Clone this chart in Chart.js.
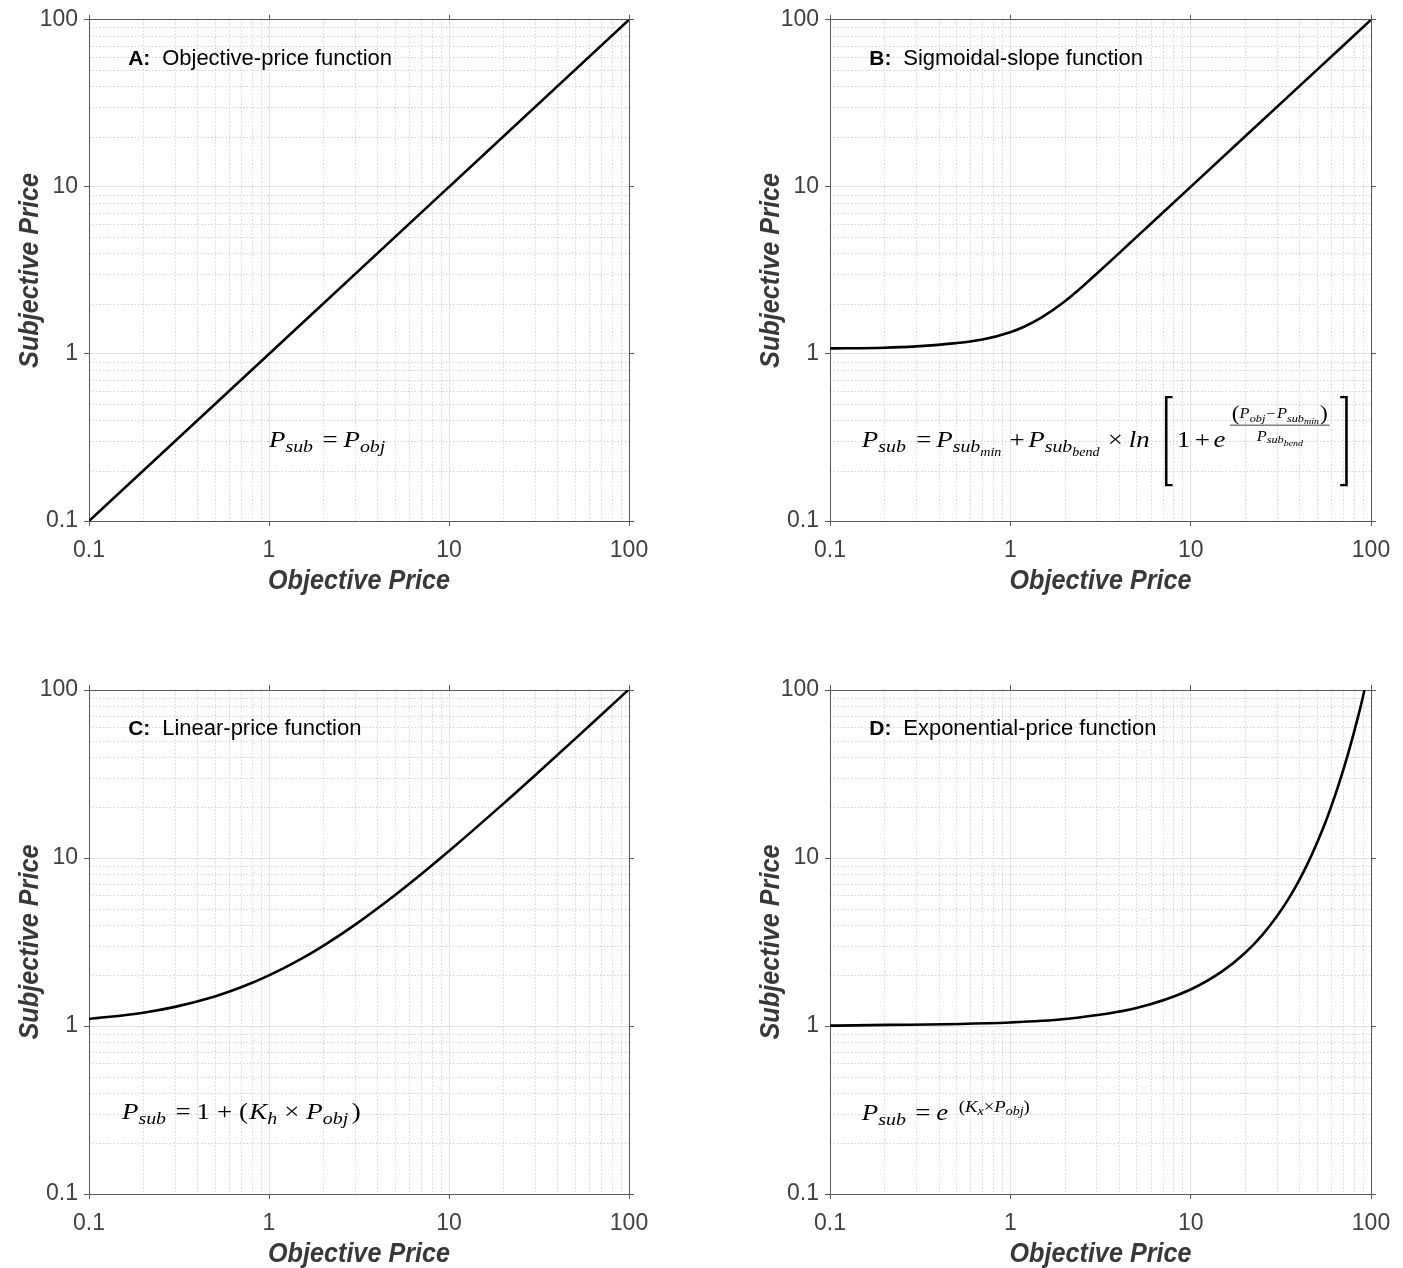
<!DOCTYPE html>
<html>
<head>
<meta charset="utf-8">
<script src="https://cdn.jsdelivr.net/npm/chart.js@4.4.1/dist/chart.umd.min.js"></script>
<style>
html,body{margin:0;padding:0;background:#fff;}
#wrap{position:relative;width:1403px;height:1268px;overflow:hidden;background:#fff;}
canvas{position:absolute;left:0;top:0;}
</style>
</head>
<body>
<div id="wrap">
<canvas id="c0" width="1403" height="1268"></canvas>
<canvas id="c1" width="1403" height="1268"></canvas>
<canvas id="c2" width="1403" height="1268"></canvas>
<canvas id="c3" width="1403" height="1268"></canvas>
</div>
<script>
// ---------- data ----------
const tickValues = [0.1, 1, 10, 100];
const tickLabels = ['0.1', '1', '10', '100'];
const minorValues = [0.2,0.3,0.4,0.5,0.6,0.7,0.8,0.9,2,3,4,5,6,7,8,9,20,30,40,50,60,70,80,90];

const objA = [0.1, 1, 10, 100];
const subA = [0.1, 1, 10, 100];

const objB = [0.1, 0.2, 0.3, 0.5, 0.7, 1, 1.2, 1.5, 2, 2.5, 3, 4, 5, 7, 10, 20, 50, 100];
const subB = [1.08, 1.09, 1.11, 1.16, 1.22, 1.35, 1.46, 1.66, 2.06, 2.52, 3.01, 4.0, 5.0, 7.0, 10, 20, 50, 100];

const objC = [0.1, 0.2, 0.3, 0.5, 0.7, 1, 1.5, 2, 3, 5, 7, 10, 20, 30, 50, 70, 100];
const subC = [1.1, 1.2, 1.3, 1.5, 1.7, 2, 2.5, 3, 4, 6, 8, 11, 21, 31, 51, 71, 101];

const objD = [0.1, 1, 2, 5, 10, 15, 20, 25, 30, 35, 40, 45, 50, 55, 60, 65, 70, 75, 80, 85, 90, 92];
const subD = [1.005, 1.05, 1.1, 1.28, 1.65, 2.12, 2.72, 3.49, 4.48, 5.75, 7.39, 9.49, 12.2, 15.6, 20.1, 25.8, 33.1, 42.5, 54.6, 70.1, 90, 100];

const panelLetters = ['A:', 'B:', 'C:', 'D:'];
const panelNames = ['Objective-price function', 'Sigmoidal-slope function', 'Linear-price function', 'Exponential-price function'];
const xTitle = 'Objective Price';
const yTitle = 'Subjective Price';

const seriesX = [objA, objB, objC, objD];
const seriesY = [subA, subB, subC, subD];

// ---------- layout (chart areas in page pixels) ----------
const W = 1403, H = 1268;
const areas = [
  {L: 89, T: 18, R: 629, B: 521},
  {L: 830, T: 18, R: 1371, B: 521},
  {L: 89, T: 690, R: 629, B: 1194},
  {L: 830, T: 690, R: 1371, B: 1194}
];
// annotation anchors in data coordinates
const labelAnchor = {x: 0.165, y: 54};
const formulaAnchors = [{x: 1.0, y: 0.277}, {x: 0.15, y: 0.277}, {x: 0.1525, y: 0.279}, {x: 0.15, y: 0.277}];
const FORMULA_STRETCH = 1.17;

// ---------- math text helpers ----------
const SERIF = '"Liberation Serif","DejaVu Serif",serif';
const I = (t, sz, dy, gb, ga) => ({t, it: true, sz, dy: dy || 0, gb: gb || 0, ga: ga || 0});
const R = (t, sz, dy, gb, ga) => ({t, it: false, sz, dy: dy || 0, gb: gb || 0, ga: ga || 0});
function setF(ctx, k) { ctx.font = (k.it ? 'italic ' : '') + k.sz + 'px ' + SERIF; }
function run(ctx, x, y, toks) {
  toks.forEach(k => {
    setF(ctx, k);
    x += k.gb;
    ctx.fillText(k.t, x, y + k.dy);
    x += ctx.measureText(k.t).width + k.ga;
  });
  return x;
}
function measure(ctx, toks) {
  let w = 0;
  toks.forEach(k => { setF(ctx, k); w += k.gb + ctx.measureText(k.t).width + k.ga; });
  return w;
}
function bracket(ctx, x, top, bot, dir) {
  ctx.save();
  ctx.lineWidth = 2.2; ctx.strokeStyle = '#000'; ctx.lineCap = 'butt';
  ctx.beginPath();
  if (dir > 0) { ctx.moveTo(x + 6.5, top); ctx.lineTo(x + 1.1, top); ctx.lineTo(x + 1.1, bot); ctx.lineTo(x + 6.5, bot); }
  else { ctx.moveTo(x, top); ctx.lineTo(x + 5.4, top); ctx.lineTo(x + 5.4, bot); ctx.lineTo(x, bot); }
  ctx.stroke();
  ctx.restore();
}
const S = 23, s1 = 17, s2 = 12;
const formulas = [
  function (ctx, x, y) {
    run(ctx, x, y, [I('P', S), I('sub', s1, 5), R('=', S, 0, 8, 5), I('P', S), I('obj', s1, 5)]);
  },
  function (ctx, x, y) {
    x = run(ctx, x, y, [I('P', S), I('sub', s1, 5), R('=', S, 0, 9, 4), I('P', S), I('sub', s1, 5), I('min', s2, 9),
      R('+', S, 0, 7, 3), I('P', S), I('sub', s1, 5), I('bend', s2, 9), R('\u00d7', S, 0, 7, 5), I('ln', S)]);
    x += 13;
    const top = y - 50, bot = y + 38;
    bracket(ctx, x, top, bot, 1);
    x += 10;
    x = run(ctx, x, y, [R('1', S), R('+', S, 0, 4, 3), I('e', S)]);
    x += 4;
    const num = [R('(', 20, -27), I('P', 14, -28.7), I('obj', 10.5, -25.3), R('\u2212', 14, -28.7, 1, 1),
      I('P', 14, -28.7), I('sub', 10.5, -25.3), I('min', 8.5, -23), R(')', 20, -27, 1, 0)];
    const den = [I('P', 14, -6.3), I('sub', 10.5, -4.5), I('bend', 8.5, -1)];
    const nw = measure(ctx, num), dw = measure(ctx, den);
    const fw = Math.max(nw, dw) + 3;
    run(ctx, x + (fw - nw) / 2, y, num);
    run(ctx, x + (fw - dw) / 2, y, den);
    ctx.save(); ctx.lineWidth = 0.9; ctx.strokeStyle = '#000';
    ctx.beginPath(); ctx.moveTo(x, y - 22); ctx.lineTo(x + fw, y - 22); ctx.stroke(); ctx.restore();
    x += fw + 9;
    bracket(ctx, x, top, bot, -1);
  },
  function (ctx, x, y) {
    run(ctx, x, y, [I('P', S), I('sub', s1, 5), R('=', S, 0, 8, 5), R('1', S), R('+', S, 0, 6, 6), R('(', S, 0, 0, 1), I('K', S),
      I('h', s1, 5), R('\u00d7', S, 0, 6, 6), I('P', S), I('obj', s1, 5), R(')', S, 0, 3, 0)]);
  },
  function (ctx, x, y) {
    run(ctx, x, y, [I('P', S), I('sub', s1, 5), R('=', S, 0, 8, 5), I('e', S, 0, 0, 9), R('(', 16, -8), I('K', 16, -8),
      I('x', 12, -4.5), R('\u00d7', 16, -8), I('P', 16, -8), I('obj', 12, -4.5), R(')', 16, -8)]);
  }
];

// ---------- chart builder ----------
const TICK_FONT = {family: '"Liberation Sans",Arial,sans-serif', size: 23};
const TICK_COLOR = '#404040';
const AXIS_COLOR = '#5a5a5a';
const GRID_MAJOR = '#e3e3e3';
const GRID_MINOR = '#d3d3d3';

function setTicks(scale) { scale.ticks = tickValues.map(v => ({value: v})); }
function fitW(w) { return s => { s.width = w; }; }
function fitH(h) { return s => { s.height = h; }; }

function drawCompressed(ctx, text, cx, cy, targetW, rot) {
  ctx.save();
  ctx.font = 'italic bold 28px "Liberation Sans",Arial,sans-serif';
  const mw = ctx.measureText(text).width;
  ctx.translate(cx, cy);
  if (rot) ctx.rotate(-Math.PI / 2);
  ctx.scale(targetW / mw, 1);
  ctx.fillStyle = '#383838';
  ctx.textAlign = 'center';
  ctx.textBaseline = 'middle';
  ctx.fillText(text, 0, 0);
  ctx.restore();
}

function makePlugin(p) {
  return {
    id: 'deco' + p,
    beforeDraw(chart) {
      const {ctx, chartArea: a, scales: {x, y}} = chart;
      ctx.save();
      ctx.strokeStyle = GRID_MINOR; ctx.lineWidth = 1; ctx.setLineDash([1.5, 2]);
      minorValues.forEach(v => {
        const px = Math.round(x.getPixelForValue(v)) + 0.5;
        ctx.beginPath(); ctx.moveTo(px, a.top); ctx.lineTo(px, a.bottom); ctx.stroke();
        const py = Math.round(y.getPixelForValue(v)) + 0.5;
        ctx.beginPath(); ctx.moveTo(a.left, py); ctx.lineTo(a.right, py); ctx.stroke();
      });
      ctx.restore();
    },
    afterDraw(chart) {
      const {ctx, chartArea: a, scales: {x, y}} = chart;
      // axis titles
      drawCompressed(ctx, xTitle, (a.left + a.right) / 2, a.bottom + 60, 182, false);
      drawCompressed(ctx, yTitle, a.left - 59, (a.top + a.bottom) / 2, 195, true);
      // panel label
      ctx.save();
      ctx.fillStyle = '#000';
      ctx.textBaseline = 'alphabetic';
      const lx = x.getPixelForValue(labelAnchor.x), ly = y.getPixelForValue(labelAnchor.y);
      ctx.font = 'bold 21px "Liberation Sans",Arial,sans-serif';
      ctx.fillText(panelLetters[p], lx, ly);
      ctx.font = '22px "Liberation Sans",Arial,sans-serif';
      ctx.fillText(panelNames[p], lx + 34, ly);
      ctx.restore();
      // formula
      const fa = formulaAnchors[p];
      ctx.save();
      ctx.fillStyle = '#000';
      ctx.textBaseline = 'alphabetic';
      ctx.translate(x.getPixelForValue(fa.x), 0);
      ctx.scale(FORMULA_STRETCH, 1);
      formulas[p](ctx, 0, y.getPixelForValue(fa.y));
      ctx.restore();
    }
  };
}

function build(p) {
  const a = areas[p];
  const data = seriesX[p].map((v, i) => ({x: v, y: seriesY[p][i]}));
  const axisBase = {
    type: 'logarithmic', min: 0.1, max: 100,
    afterBuildTicks: setTicks,
    border: {display: true, color: AXIS_COLOR, width: 1}
  };
  const lbl = (v) => { const i = tickValues.indexOf(v); return i >= 0 ? tickLabels[i] : ''; };
  new Chart(document.getElementById('c' + p), {
    type: 'scatter',
    data: {datasets: [{
      data, showLine: true, borderColor: '#000', borderWidth: 2.6, pointRadius: 0,
      cubicInterpolationMode: 'monotone', fill: false, xAxisID: 'x', yAxisID: 'y'
    }]},
    options: {
      responsive: false, animation: false, devicePixelRatio: 1,
      events: [],
      layout: {padding: {left: a.L - 70, right: W - a.R - 10, top: a.T - 10, bottom: H - a.B - 40}},
      plugins: {legend: {display: false}, tooltip: {enabled: false}},
      scales: {
        x: Object.assign({}, axisBase, {
          position: 'bottom', afterFit: fitH(40),
          grid: {color: GRID_MAJOR, lineWidth: 1, drawTicks: true, tickLength: 5, tickColor: AXIS_COLOR},
          ticks: {font: TICK_FONT, color: TICK_COLOR, padding: 11, maxRotation: 0, autoSkip: false, callback: lbl}
        }),
        x2: Object.assign({}, axisBase, {
          position: 'top', afterFit: fitH(10),
          grid: {drawOnChartArea: false, drawTicks: true, tickLength: 5, tickColor: AXIS_COLOR},
          ticks: {display: false}
        }),
        y: Object.assign({}, axisBase, {
          position: 'left', afterFit: fitW(70),
          grid: {color: GRID_MAJOR, lineWidth: 1, drawTicks: true, tickLength: 5, tickColor: AXIS_COLOR},
          ticks: {font: TICK_FONT, color: TICK_COLOR, padding: 6, autoSkip: false, callback: lbl}
        }),
        y2: Object.assign({}, axisBase, {
          position: 'right', afterFit: fitW(10),
          grid: {drawOnChartArea: false, drawTicks: true, tickLength: 5, tickColor: AXIS_COLOR},
          ticks: {display: false}
        })
      }
    },
    plugins: [makePlugin(p)]
  });
}
[0, 1, 2, 3].forEach(build);
</script>
</body>
</html>
